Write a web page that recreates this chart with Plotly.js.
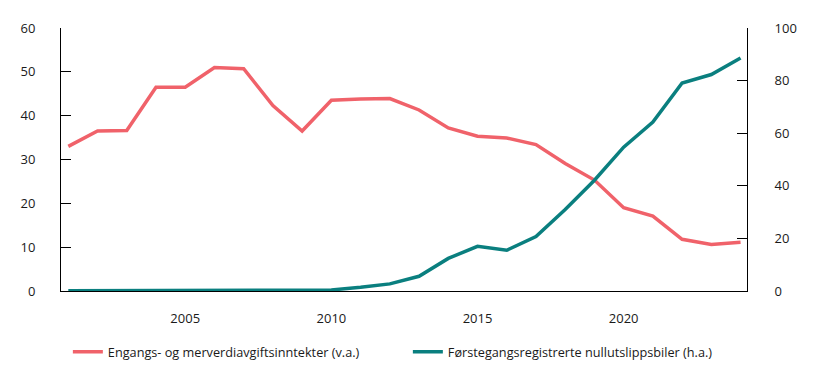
<!DOCTYPE html>
<html>
<head>
<meta charset="utf-8">
<script src="https://cdn.plot.ly/plotly-3.0.1.min.js"></script>
<style>html,body{margin:0;padding:0;background:#fff;}#chart{width:817px;height:379px;}</style>
</head>
<body>
<div id="chart"></div>
<script>
const years = [2001,2002,2003,2004,2005,2006,2007,2008,2009,2010,2011,2012,2013,2014,2015,2016,2017,2018,2019,2020,2021,2022,2023,2024];
const avgiftsinntekter = [33.0,36.5,36.6,46.5,46.5,51.0,50.7,42.3,36.5,43.5,43.8,43.9,41.3,37.2,35.3,34.9,33.4,29.1,25.3,19.0,17.1,11.8,10.6,11.1];
const nullutslipp = [0.1,0.1,0.1,0.1,0.1,0.1,0.1,0.2,0.2,0.4,1.4,2.7,5.6,12.4,17.0,15.5,20.7,31.0,42.1,54.7,64.2,79.1,82.3,88.6];
const seriesNames = ["Engangs- og merverdiavgiftsinntekter (v.a.)", "Førstegangsregistrerte nullutslippsbiler (h.a.)"];
const xTicks = [2005,2010,2015,2020];

const traces = [
  {x: years, y: avgiftsinntekter, name: seriesNames[0], type: 'scatter', mode: 'lines',
   line: {color: '#f0626a', width: 3.5}, yaxis: 'y'},
  {x: years, y: nullutslipp, name: seriesNames[1], type: 'scatter', mode: 'lines',
   line: {color: '#0a7f7f', width: 3.5}, yaxis: 'y2'}
];
const tickFont = {family: 'Open Sans, sans-serif', size: 13, color: '#1a1a1a'};
const layout = {
  width: 817, height: 379,
  margin: {l: 61, r: 70, t: 28, b: 88},
  paper_bgcolor: '#fff', plot_bgcolor: '#fff',
  font: tickFont,
  showlegend: true,
  legend: {orientation: 'h', x: 0.01, y: -0.175, xanchor: 'left', yanchor: 'top',
    font: {family: 'Open Sans, sans-serif', size: 12.7, color: '#1a1a1a'}, itemwidth: 30,
    entrywidth: 295, tracegroupgap: 0},
  xaxis: {range: [2000.75, 2024.22], tickvals: xTicks, ticktext: xTicks.map(String),
    showline: true, linecolor: '#000', linewidth: 1, showgrid: false, zeroline: false,
    ticks: '', tickfont: tickFont, ticklabelstandoff: 15},
  yaxis: {range: [0, 60], dtick: 10, showline: true, linecolor: '#000', linewidth: 1,
    showgrid: false, zeroline: false, ticks: 'inside', ticklen: 10, tickcolor: '#000',
    tickfont: tickFont, ticklabelstandoff: 22},
  yaxis2: {range: [0, 100], dtick: 20, overlaying: 'y', side: 'right', showline: true,
    linecolor: '#000', linewidth: 1, showgrid: false, zeroline: false, ticks: 'inside',
    ticklen: 10, tickcolor: '#000', tickfont: tickFont, ticklabelstandoff: 24}
};
Plotly.newPlot('chart', traces, layout, {displayModeBar: false, staticPlot: true});
</script>
</body>
</html>
